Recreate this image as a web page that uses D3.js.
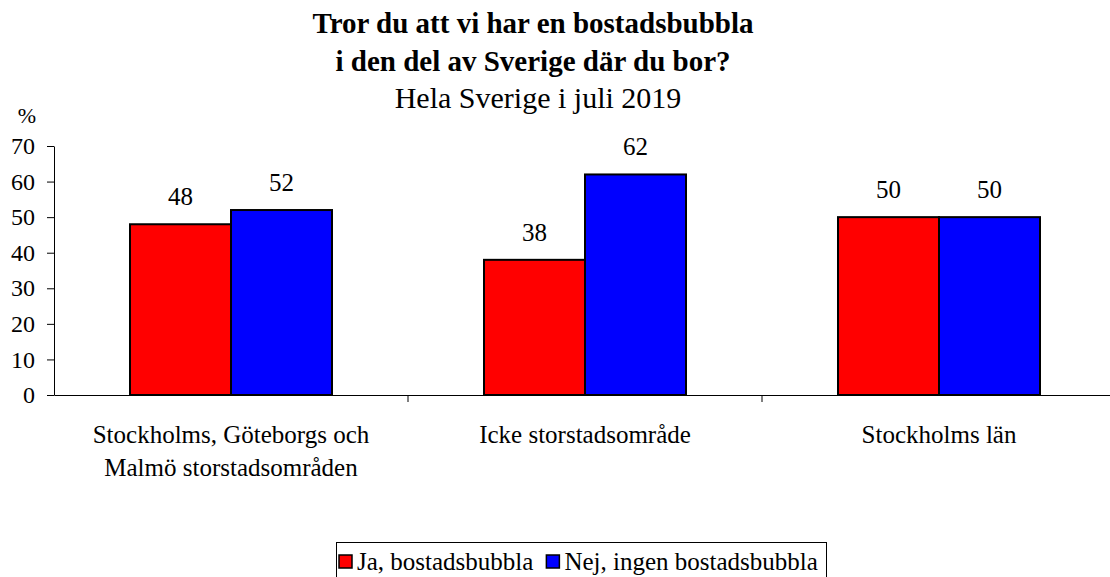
<!DOCTYPE html>
<html lang="sv">
<head>
<meta charset="UTF-8">
<script src="https://d3js.org/d3.v7.min.js"></script>
<style>
  body { margin: 0; background: #fff; }
  svg text { font-family: "Liberation Serif", "Times New Roman", serif; fill: #000; }
</style>
</head>
<body>
<div id="container"></div>
<script>
// data
const categories = [
    ["Stockholms, Göteborgs och", "Malmö storstadsområden"],
    ["Icke storstadsområde"],
    ["Stockholms län"]
];
const seriesNames = ["Ja, bostadsbubbla", "Nej, ingen bostadsbubbla"];
const jaValues = [48, 38, 50];
const nejValues = [52, 62, 50];
const yTicks = [0, 10, 20, 30, 40, 50, 60, 70];

const w = 1110, h = 577;
const margin = { left: 54, top: 146, bottom: 182 };
const colors = ["#ff0000", "#0000ff"];

const svg = d3.select("#container").append("svg")
    .attr("width", w).attr("height", h);

// title
svg.append("text").attr("x", 533).attr("y", 33)
    .attr("text-anchor", "middle").style("font-size", "29px").style("font-weight", "bold")
    .text("Tror du att vi har en bostadsbubbla");
svg.append("text").attr("x", 533).attr("y", 71)
    .attr("text-anchor", "middle").style("font-size", "29px").style("font-weight", "bold")
    .text("i den del av Sverige där du bor?");
svg.append("text").attr("x", 538).attr("y", 108)
    .attr("text-anchor", "middle").style("font-size", "30px")
    .text("Hela Sverige i juli 2019");

const x = d3.scaleBand().domain(d3.range(categories.length)).range([margin.left, 1116]);
const inner = d3.scaleBand().domain([0, 1]).range([0, 202]);
const y = d3.scaleLinear().domain([0, 70]).range([h - margin.bottom, margin.top]);

// y axis
const yAxis = d3.axisLeft(y).tickValues(yTicks).tickSize(7).tickSizeOuter(0).tickPadding(12);
svg.append("g").attr("transform", "translate(" + margin.left + ",0)")
    .call(yAxis)
    .attr("font-family", null)
    .call(g => g.select(".domain").attr("stroke", "#000"))
    .call(g => g.selectAll("text").style("font-size", "24px"));

svg.append("text").attr("x", 27).attr("y", 123).attr("text-anchor", "middle")
    .style("font-size", "22px").text("%");

// bars
const groups = svg.selectAll(".grp").data(categories).enter().append("g")
    .attr("transform", (d, i) => "translate(" + (x(i) + (x.bandwidth() - 202) / 2) + ",0)");

groups.each(function (d, i) {
    const vals = [jaValues[i], nejValues[i]];
    const g = d3.select(this);
    g.selectAll("rect").data(vals).enter().append("rect")
        .attr("x", (v, j) => inner(j))
        .attr("y", v => y(v))
        .attr("width", inner.bandwidth())
        .attr("height", v => y(0) - y(v))
        .attr("fill", (v, j) => colors[j])
        .attr("stroke", "#000").attr("stroke-width", 2);
    g.selectAll(".lbl").data(vals).enter().append("text")
        .attr("x", (v, j) => inner(j) + inner.bandwidth() / 2)
        .attr("y", v => y(v) - 19)
        .attr("text-anchor", "middle").style("font-size", "25px")
        .text(v => v);
});

// x axis
const xAxis = d3.axisBottom(x).tickValues([]).tickSizeOuter(0);
const xg = svg.append("g").attr("transform", "translate(0," + y(0) + ")").call(xAxis);
xg.select(".domain").attr("stroke", "#000");
xg.selectAll(".sep").data(d3.range(1, categories.length)).enter().append("line")
    .attr("x1", i => x(i)).attr("x2", i => x(i)).attr("y1", 0).attr("y2", 7)
    .attr("stroke", "#000");

svg.selectAll(".cat").data(categories).enter().append("text")
    .attr("text-anchor", "middle").style("font-size", "25px")
    .attr("transform", (d, i) => "translate(" + (x(i) + x.bandwidth() / 2) + ",443)")
    .selectAll("tspan").data(d => d).enter().append("tspan")
    .attr("x", 0).attr("dy", (t, k) => k === 0 ? 0 : 33).text(t => t);

// legend
const legend = svg.append("g");
const box = legend.append("rect").attr("y", 542.5).attr("height", 40)
    .attr("fill", "none").attr("stroke", "#000");
let cx = 339;
seriesNames.forEach((s, i) => {
    legend.append("rect").attr("x", cx).attr("y", 555).attr("width", 13).attr("height", 13)
        .attr("fill", colors[i]).attr("stroke", "#000").attr("stroke-width", 1.5);
    const t = legend.append("text").attr("x", cx + 18).attr("y", 570)
        .style("font-size", "25px").text(s);
    cx += 18 + t.node().getComputedTextLength() + 13;
});
box.attr("x", 336.5).attr("width", 490);
</script>
</body>
</html>
